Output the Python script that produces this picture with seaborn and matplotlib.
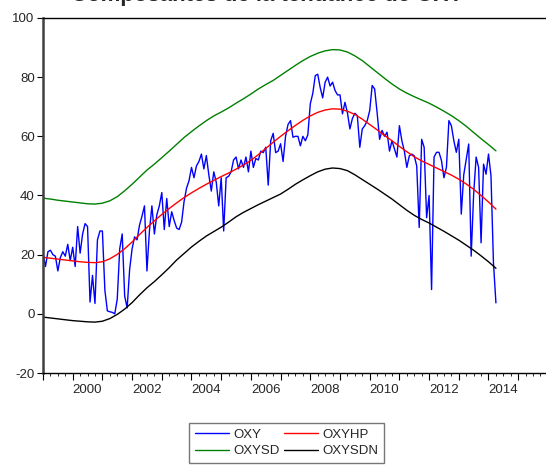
import matplotlib
matplotlib.use('Agg')
import matplotlib.pyplot as plt
import matplotlib.ticker as mticker
import numpy as np
import pandas as pd
import seaborn as sns

# monthly series OXY, 1999M01 - 2014M04
oxy = [20.5, 16, 21, 21.5, 20, 19.5, 14.5, 19, 21, 19.5, 23.5, 18,
       22.5, 16, 29.5, 20.5, 27, 30.5, 29.5, 4, 13, 3.5, 25, 28,
       28, 8, 1, 0.7, 0.5, 0, 5, 22, 27, 6, 2, 15,
       22, 26, 25, 30, 33, 36.5, 14.5, 28, 36.5, 27, 33.5, 36.5,
       41, 28.5, 39, 29.5, 34.5, 31.5, 29, 28.5, 31, 38, 42.5, 45,
       49.5, 46, 50, 51.5, 54, 49, 53.5, 47, 41.5, 48, 44.5, 36.5,
       46, 28, 46, 46.5, 48, 52, 53, 49, 52, 49.5, 53, 48,
       55, 49.5, 52.5, 52, 55, 54.5, 56.3, 43.5, 58.5, 61, 54.5, 55,
       57.5, 51.5, 60, 64, 65.3, 59.7, 60, 60, 56.8, 60, 58.5, 60.5,
       71, 74.5, 80.5, 81, 76.5, 73, 78.3, 80, 77, 78.3, 75.5, 74,
       74, 67.6, 71.5, 68, 62.5, 66, 67.8, 67, 56.3, 62.5, 63.6, 65.3,
       68.7, 77.2, 76, 68, 59, 62, 60, 61.4, 55, 58.5, 55.7, 53,
       63.6, 58.5, 55, 49.5, 53.4, 54, 53.4, 50, 29.2, 59, 56.3, 32.5,
       40, 8.2, 53, 54.6, 54.6, 51.8, 46, 49.5, 65.3, 63.6, 58.5, 54.6,
       59, 33.7, 47, 52.3, 57.4, 19.5, 40.5, 53, 49.5, 24, 50.6, 47.2,
       54, 46.7, 17.3, 3.7]

# quarterly readings of the smooth series (1999M01, 1999M04, ... 2014M04)
oxyhp = [19.1, 18.8, 18.5, 18.2, 17.9, 17.6, 17.4, 17.3, 17.6, 18.6,
         20.1, 22.0, 24.3, 26.8, 29.2, 31.4, 33.6, 35.6, 37.5, 39.3,
         40.9, 42.4, 43.8, 45.1, 46.4, 47.6, 48.9, 50.3, 51.9, 53.8,
         55.9, 58.0, 60.0, 61.9, 63.7, 65.4, 66.9, 68.1, 68.9, 69.3,
         69.2, 68.5, 67.4, 65.8, 64.0, 62.2, 60.3, 58.5, 56.6, 54.8,
         53.1, 51.7, 50.5, 49.3, 48.1, 46.9, 45.5, 43.9, 42.1, 40.0,
         37.8, 35.4]
oxysd = [39.1, 38.8, 38.4, 38.1, 37.8, 37.5, 37.2, 37.1, 37.4, 38.2,
         39.6, 41.6, 43.8, 46.2, 48.6, 50.6, 52.8, 55.0, 57.3, 59.6,
         61.6, 63.5, 65.3, 66.9, 68.2, 69.6, 71.2, 72.7, 74.3, 76.0,
         77.5, 78.9, 80.6, 82.3, 84.0, 85.6, 87.0, 88.1, 88.9, 89.3,
         89.2, 88.5, 87.2, 85.6, 83.6, 81.6, 79.6, 77.7, 76.0, 74.6,
         73.4, 72.3, 71.2, 69.9, 68.5, 67.0, 65.3, 63.4, 61.3, 59.2,
         57.2, 55.1]
oxysdn = [-1.1, -1.4, -1.7, -2.0, -2.3, -2.5, -2.7, -2.8, -2.5, -1.6,
          -0.2, 1.6, 3.8, 6.4, 8.8, 10.9, 13.2, 15.6, 18.2, 20.4,
          22.6, 24.5, 26.3, 27.8, 29.3, 31.0, 32.8, 34.3, 35.6, 36.9,
          38.1, 39.3, 40.5, 42.1, 43.8, 45.3, 46.7, 48.0, 48.9, 49.3,
          49.1, 48.4, 47.0, 45.4, 43.8, 42.2, 40.5, 38.8, 36.9, 35.0,
          33.3, 31.9, 30.7, 29.3, 27.9, 26.4, 24.9, 23.2, 21.5, 19.6,
          17.6, 15.4]

year_labels = ['2000', '2002', '2004', '2006', '2008', '2010', '2012', '2014']
title = 'Composantes de la tendance de OXY'

# time axis in decimal years
t_month = 1999 + np.arange(len(oxy)) / 12
t_quarter = 1999 + np.arange(len(oxyhp)) * 3 / 12

df_m = pd.DataFrame({'t': t_month, 'OXY': oxy})
df_q = pd.DataFrame({'t': t_quarter, 'OXYHP': oxyhp, 'OXYSD': oxysd,
                     'OXYSDN': oxysdn})

sns.set_style('white')
plt.rcParams['font.family'] = ['Liberation Sans', 'DejaVu Sans']
plt.rcParams['axes.unicode_minus'] = False

fig = plt.figure(figsize=(5.46, 4.65), dpi=100)
ax = fig.add_axes([43 / 546, 1 - 373 / 465, 17 * 29.7 / 546, 355 / 465])

sns.lineplot(data=df_m, x='t', y='OXY', color='#0000ff', lw=1.0, ax=ax, label='OXY')
sns.lineplot(data=df_q, x='t', y='OXYHP', color='#ff0000', lw=1.0, ax=ax, label='OXYHP')
sns.lineplot(data=df_q, x='t', y='OXYSD', color='#008000', lw=1.0, ax=ax, label='OXYSD')
sns.lineplot(data=df_q, x='t', y='OXYSDN', color='#000000', lw=1.0, ax=ax, label='OXYSDN')

ax.set_xlim(1999, 2016)
ax.set_ylim(-20, 100)
ax.set_xlabel('')
ax.set_ylabel('')

# y axis
ax.set_yticks([-20, 0, 20, 40, 60, 80, 100])
ax.tick_params(axis='y', direction='out', length=4, width=0.8, labelsize=9.5,
               pad=2, left=True, color='black')

# x axis: yearly ticks, quarterly minor ticks, labels mid-year
ax.xaxis.set_major_locator(mticker.MultipleLocator(1))
ax.xaxis.set_minor_locator(mticker.MultipleLocator(0.25))
ax.tick_params(axis='x', which='major', direction='out', length=5, width=0.8,
               labelbottom=False, bottom=True, color='black')
ax.tick_params(axis='x', which='minor', direction='out', length=2.5, width=0.6,
               bottom=True, color='black')
sec = ax.secondary_xaxis('bottom')
sec.set_xticks([int(y) + 0.5 for y in year_labels], labels=year_labels)
sec.tick_params(length=0, labelsize=9.5, pad=8)
sec.spines['bottom'].set_visible(False)

for side in ['top', 'bottom']:
    ax.spines[side].set_color('black')
    ax.spines[side].set_linewidth(1.0)
ax.spines['left'].set_color('#404040')
ax.spines['left'].set_linewidth(1.8)
ax.spines['right'].set_color('black')

# legend
handles, labels = ax.get_legend_handles_labels()
ax.get_legend().remove()
order = [0, 2, 1, 3]
leg = fig.legend([handles[i] for i in order], [labels[i] for i in order],
                 ncol=2, loc='upper center', bbox_to_anchor=(0.525, 1 - 423 / 465),
                 fontsize=9.5, frameon=True, fancybox=False, handlelength=2.6,
                 handletextpad=0.35, columnspacing=0.3, labelspacing=0.35,
                 borderpad=0.4, borderaxespad=0)
leg.get_frame().set_edgecolor('#555555')
leg.get_frame().set_linewidth(1.0)

# title, mostly cut off by the top of the picture (as in the reference)
fig.text(0.49, 1 - 0.8 / 465, title, ha='center', va='baseline',
         fontsize=16, weight='bold')

fig.savefig('out.png', dpi=100)
